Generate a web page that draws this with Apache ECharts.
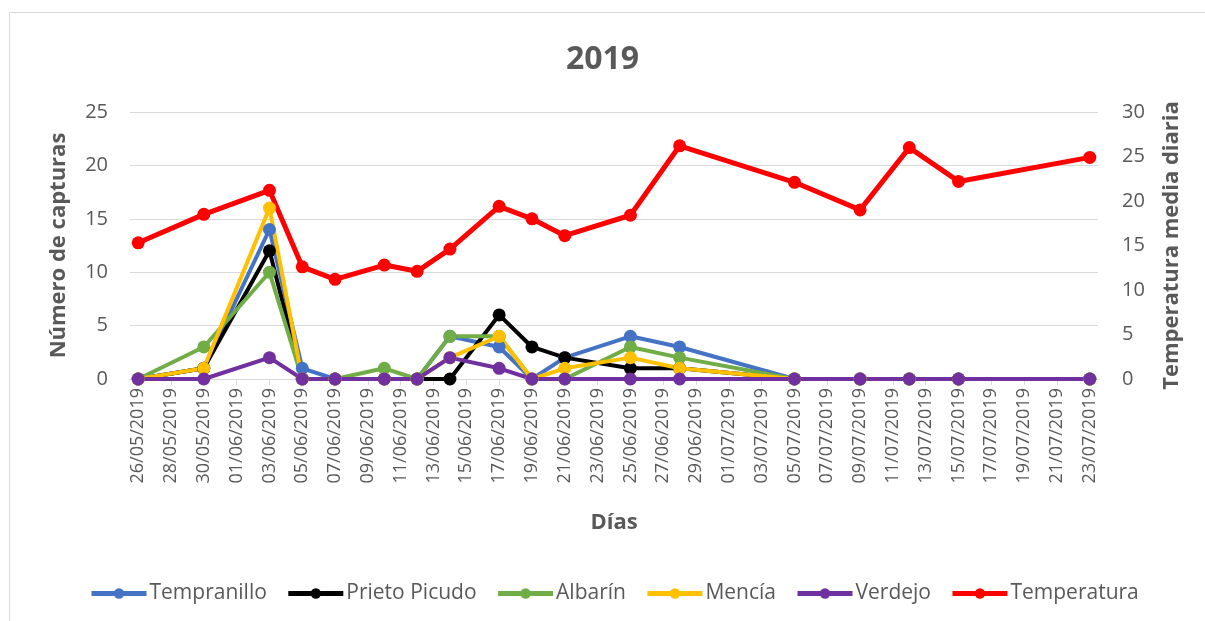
<!DOCTYPE html>
<html>
<head>
<meta charset="utf-8">
<title>2019</title>
<script src="https://cdn.jsdelivr.net/npm/echarts@6/dist/echarts.min.js"></script>
<style>
  html, body { margin: 0; padding: 0; background: #fff; }
  #main { width: 1205px; height: 621px; }
</style>
</head>
<body>
<div id="main"></div>
<script>
// sampling dates (dd/mm/yyyy)
const fechas = ['26/05/2019', '30/05/2019', '03/06/2019', '05/06/2019', '07/06/2019', '10/06/2019',
  '12/06/2019', '14/06/2019', '17/06/2019', '19/06/2019', '21/06/2019', '25/06/2019',
  '28/06/2019', '05/07/2019', '09/07/2019', '12/07/2019', '15/07/2019', '23/07/2019'];

const tempranillo  = [0, 1, 14, 1, 0, 0, 0, 4, 3, 0, 2, 4, 3, 0, 0, 0, 0, 0];
const prietoPicudo = [0, 1, 12, 0, 0, 0, 0, 0, 6, 3, 2, 1, 1, 0, 0, 0, 0, 0];
const albarin      = [0, 3, 10, 0, 0, 1, 0, 4, 4, 0, 0, 3, 2, 0, 0, 0, 0, 0];
const mencia       = [0, 1, 16, 0, 0, 0, 0, 2, 4, 0, 1, 2, 1, 0, 0, 0, 0, 0];
const verdejo      = [0, 0, 2, 0, 0, 0, 0, 2, 1, 0, 0, 0, 0, 0, 0, 0, 0, 0];
const temperatura  = [15.3, 18.5, 21.2, 12.6, 11.2, 12.8, 12.1, 14.6, 19.4, 18.0, 16.1, 18.4,
  26.2, 22.1, 19.0, 26.0, 22.2, 24.9];

// date axis: one category per day from first to last date
const firstDay = '26/05/2019';
const numDays = 59;

const pad = n => (n < 10 ? '0' : '') + n;
const toDate = s => { const p = s.split('/'); return new Date(Date.UTC(+p[2], +p[1] - 1, +p[0])); };
const dias = [];
for (let i = 0; i < numDays; i++) {
  const d = toDate(firstDay);
  d.setUTCDate(d.getUTCDate() + i);
  dias.push(pad(d.getUTCDate()) + '/' + pad(d.getUTCMonth() + 1) + '/' + d.getUTCFullYear());
}

const gray = '#595959';
const font = 'Open Sans';

function mkSeries(name, values, color, yIdx, width, size) {
  return {
    name: name,
    type: 'line',
    yAxisIndex: yIdx,
    data: fechas.map((f, i) => [f, values[i]]),
    symbol: 'circle',
    symbolSize: size,
    showSymbol: true,
    showAllSymbol: true,
    lineStyle: { color: color, width: width },
    itemStyle: { color: color },
    emphasis: { disabled: true }
  };
}

const chart = echarts.init(document.getElementById('main'));
chart.setOption({
  animation: false,
  backgroundColor: '#fff',
  textStyle: { fontFamily: font },
  title: {
    text: '2019',
    left: 'center',
    top: 39,
    textStyle: { color: gray, fontSize: 32, fontWeight: 'bold', fontFamily: font }
  },
  graphic: [{
    type: 'rect',
    shape: { x: 9.5, y: 12.5, width: 1300, height: 700 },
    style: { fill: 'none', stroke: '#D9D9D9', lineWidth: 1 },
    silent: true
  }],
  legend: {
    top: 578,
    left: 84,
    itemWidth: 55,
    itemHeight: 13,
    itemGap: 19,
    lineStyle: { width: 5 },
    textStyle: { color: gray, fontSize: 21, fontFamily: font, padding: [0, 0, 0, -2] },
    data: ['Tempranillo', 'Prieto Picudo', 'Albarín', 'Mencía', 'Verdejo', 'Temperatura']
  },
  grid: { left: 130, right: 107, top: 112, bottom: 242 },
  xAxis: {
    type: 'category',
    data: dias,
    boundaryGap: true,
    name: 'Días',
    nameLocation: 'middle',
    nameGap: 133,
    nameTextStyle: { color: gray, fontSize: 22, fontWeight: 'bold', fontFamily: font },
    axisLine: { lineStyle: { color: '#D9D9D9', width: 1 } },
    axisTick: { show: true, interval: 1, alignWithLabel: true, length: 6, lineStyle: { color: '#D9D9D9' } },
    axisLabel: { interval: 1, rotate: 90, margin: 9, color: gray, fontSize: 18, fontFamily: font }
  },
  yAxis: [{
    type: 'value',
    min: 0, max: 25, interval: 5,
    name: 'Número de capturas',
    nameLocation: 'middle',
    nameGap: 60,
    nameTextStyle: { color: gray, fontSize: 22, fontWeight: 'bold', fontFamily: font },
    axisLine: { show: false },
    axisTick: { show: false },
    axisLabel: { color: gray, fontSize: 20, margin: 22, fontFamily: font },
    splitLine: { lineStyle: { color: '#D9D9D9', width: 1 } }
  }, {
    type: 'value',
    min: 0, max: 30, interval: 5,
    name: 'Temperatura media diaria',
    nameLocation: 'middle',
    nameGap: 63,
    nameRotate: 90,
    nameTextStyle: { color: gray, fontSize: 22, fontWeight: 'bold', fontFamily: font },
    axisLine: { show: false },
    axisTick: { show: false },
    axisLabel: { color: gray, fontSize: 20, margin: 24, fontFamily: font },
    splitLine: { show: false }
  }],
  series: [
    mkSeries('Tempranillo', tempranillo, '#4472C4', 0, 4, 13),
    mkSeries('Prieto Picudo', prietoPicudo, '#000000', 0, 4, 13),
    mkSeries('Albarín', albarin, '#70AD47', 0, 4, 13),
    mkSeries('Mencía', mencia, '#FFC000', 0, 4, 13),
    mkSeries('Verdejo', verdejo, '#7030A0', 0, 4, 13),
    mkSeries('Temperatura', temperatura, '#FF0000', 1, 5, 13)
  ]
});
</script>
</body>
</html>
